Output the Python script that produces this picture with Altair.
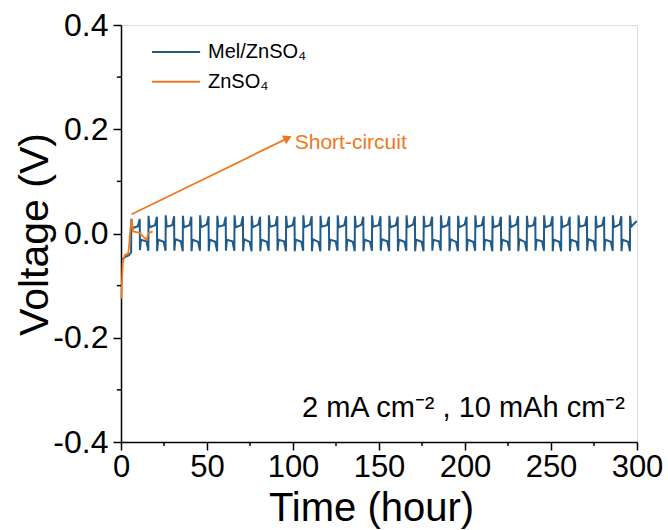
import altair as alt
import pandas as pd

# ---------------- data ----------------
SERIES = ["Mel/ZnSO₄", "ZnSO₄"]
COLORS = ["#1f5b8a", "#f07820"]

MEL_T = [
    0.8, 2.5, 4.5, 5.9,
    6, 6.6, 9.8, 10.9, 11, 11.6, 14.8, 15.9,
    16, 16.6, 19.8, 20.9, 21, 21.6, 24.8, 25.9,
    26, 26.6, 29.8, 30.9, 31, 31.6, 34.8, 35.9,
    36, 36.6, 39.8, 40.9, 41, 41.6, 44.8, 45.9,
    46, 46.6, 49.8, 50.9, 51, 51.6, 54.8, 55.9,
    56, 56.6, 59.8, 60.9, 61, 61.6, 64.8, 65.9,
    66, 66.6, 69.8, 70.9, 71, 71.6, 74.8, 75.9,
    76, 76.6, 79.8, 80.9, 81, 81.6, 84.8, 85.9,
    86, 86.6, 89.8, 90.9, 91, 91.6, 94.8, 95.9,
    96, 96.6, 99.8, 100.9, 101, 101.6, 104.8, 105.9,
    106, 106.6, 109.8, 110.9, 111, 111.6, 114.8, 115.9,
    116, 116.6, 119.8, 120.9, 121, 121.6, 124.8, 125.9,
    126, 126.6, 129.8, 130.9, 131, 131.6, 134.8, 135.9,
    136, 136.6, 139.8, 140.9, 141, 141.6, 144.8, 145.9,
    146, 146.6, 149.8, 150.9, 151, 151.6, 154.8, 155.9,
    156, 156.6, 159.8, 160.9, 161, 161.6, 164.8, 165.9,
    166, 166.6, 169.8, 170.9, 171, 171.6, 174.8, 175.9,
    176, 176.6, 179.8, 180.9, 181, 181.6, 184.8, 185.9,
    186, 186.6, 189.8, 190.9, 191, 191.6, 194.8, 195.9,
    196, 196.6, 199.8, 200.9, 201, 201.6, 204.8, 205.9,
    206, 206.6, 209.8, 210.9, 211, 211.6, 214.8, 215.9,
    216, 216.6, 219.8, 220.9, 221, 221.6, 224.8, 225.9,
    226, 226.6, 229.8, 230.9, 231, 231.6, 234.8, 235.9,
    236, 236.6, 239.8, 240.9, 241, 241.6, 244.8, 245.9,
    246, 246.6, 249.8, 250.9, 251, 251.6, 254.8, 255.9,
    256, 256.6, 259.8, 260.9, 261, 261.6, 264.8, 265.9,
    266, 266.6, 269.8, 270.9, 271, 271.6, 274.8, 275.9,
    276, 276.6, 279.8, 280.9, 281, 281.6, 284.8, 285.9,
    286, 286.6, 289.8, 290.9, 291, 291.6, 294.8, 295.9,
    296, 296.6, 299.9,
]
MEL_V = [
    -0.050, -0.045, -0.042, -0.036,
    0.028, 0.010, 0.014, 0.028, -0.032, -0.012, -0.015, -0.033,
    0.034, 0.012, 0.016, 0.032, -0.034, -0.012, -0.016, -0.033,
    0.035, 0.013, 0.016, 0.033, -0.033, -0.011, -0.015, -0.034,
    0.034, 0.012, 0.016, 0.032, -0.034, -0.012, -0.016, -0.033,
    0.035, 0.012, 0.017, 0.033, -0.034, -0.012, -0.016, -0.034,
    0.034, 0.013, 0.016, 0.032, -0.033, -0.012, -0.015, -0.033,
    0.035, 0.012, 0.016, 0.033, -0.034, -0.011, -0.016, -0.034,
    0.034, 0.012, 0.017, 0.032, -0.034, -0.012, -0.016, -0.033,
    0.035, 0.013, 0.016, 0.033, -0.033, -0.012, -0.015, -0.034,
    0.034, 0.012, 0.016, 0.032, -0.034, -0.012, -0.016, -0.033,
    0.035, 0.012, 0.017, 0.033, -0.034, -0.011, -0.016, -0.034,
    0.034, 0.013, 0.016, 0.032, -0.033, -0.012, -0.015, -0.033,
    0.035, 0.012, 0.016, 0.033, -0.034, -0.012, -0.016, -0.034,
    0.034, 0.012, 0.017, 0.032, -0.034, -0.012, -0.016, -0.033,
    0.035, 0.013, 0.016, 0.033, -0.033, -0.011, -0.015, -0.034,
    0.034, 0.012, 0.016, 0.032, -0.034, -0.012, -0.016, -0.033,
    0.035, 0.012, 0.017, 0.033, -0.034, -0.012, -0.016, -0.034,
    0.034, 0.013, 0.016, 0.032, -0.033, -0.012, -0.015, -0.033,
    0.035, 0.012, 0.016, 0.033, -0.034, -0.011, -0.016, -0.034,
    0.034, 0.012, 0.017, 0.032, -0.034, -0.012, -0.016, -0.033,
    0.035, 0.013, 0.016, 0.033, -0.033, -0.012, -0.015, -0.034,
    0.034, 0.012, 0.016, 0.032, -0.034, -0.012, -0.016, -0.033,
    0.035, 0.012, 0.017, 0.033, -0.034, -0.011, -0.016, -0.034,
    0.034, 0.013, 0.016, 0.032, -0.033, -0.012, -0.015, -0.033,
    0.035, 0.012, 0.016, 0.033, -0.034, -0.012, -0.016, -0.034,
    0.034, 0.012, 0.017, 0.032, -0.034, -0.012, -0.016, -0.033,
    0.035, 0.013, 0.016, 0.033, -0.033, -0.011, -0.015, -0.034,
    0.034, 0.012, 0.016, 0.032, -0.034, -0.012, -0.016, -0.033,
    0.035, 0.012, 0.017, 0.033, -0.034, -0.012, -0.016, -0.034,
    0.034, 0.013, 0.024,
]

ZN_T = [0.2, 1.0, 2.3, 4.2, 4.8, 5.2, 6.2, 7.1, 11.0, 12.9, 14.9, 15.8, 18.4]
ZN_V = [-0.125, -0.057, -0.041, -0.038, -0.022, 0.0, 0.028, 0.004, 0.001,
        -0.006, -0.012, 0.0, 0.004]

X_TICKS = [0, 50, 100, 150, 200, 250, 300]
X_MINOR = [25, 75, 125, 175, 225, 275]
Y_TICKS = [-0.4, -0.2, 0.0, 0.2, 0.4]
Y_MINOR = [-0.3, -0.1, 0.1, 0.3]

# legend entries (in data units), annotation positions
LEGEND_T = [18.0, 46.0, 50.6]          # line start, line end, label start
LEGEND_V = [0.348, 0.291]              # one row per series
ARROW_START = (6.2, 0.037)
ARROW_END = (97.0, 0.183)
ANNOT_TEXT = "Short-circuit"
ANNOT_POS = (101.0, 0.174)
COND_TEXT = "2 mA cm⁻² , 10 mAh cm⁻²"
COND_POS = (293.0, -0.335)

FONT = "Liberation Sans"

# ---------------- tables ----------------
mel = pd.DataFrame({"t": MEL_T, "v": MEL_V, "series": SERIES[0]})
mel["i"] = range(len(mel))
zn = pd.DataFrame({"t": ZN_T, "v": ZN_V, "series": SERIES[1]})
zn["i"] = range(len(zn))

xs = alt.Scale(domain=[0, 300], nice=False)
ys = alt.Scale(domain=[-0.4, 0.4], nice=False)
color = alt.Color("series:N", scale=alt.Scale(domain=SERIES, range=COLORS), legend=None)

x_axis = alt.Axis(
    values=X_TICKS, format="d", grid=False, labelFlush=False,
    labelFont=FONT, labelFontSize=31, labelColor="black", labelPadding=2,
    tickColor="black", tickSize=8, tickWidth=1.5,
    domainColor="black", domainWidth=1.5,
    title="Time (hour)", titleFont=FONT, titleFontSize=40,
    titleFontWeight="normal", titleColor="black",
    titleX=250, titleY=66, titleBaseline="middle",
)
y_axis = alt.Axis(
    values=Y_TICKS, grid=False,
    labelExpr="datum.value < 0 ? '-' + format(-datum.value, '.1f') : format(datum.value, '.1f')",
    labelFont=FONT, labelFontSize=32, labelColor="black", labelPadding=5,
    tickColor="black", tickSize=8, tickWidth=1.5,
    domainColor="black", domainWidth=1.5,
    title="Voltage (V)", titleFont=FONT, titleFontSize=41,
    titleFontWeight="normal", titleColor="black",
    titleX=-86, titleY=209, titleBaseline="middle",
)

mel_line = alt.Chart(mel).mark_line(strokeWidth=2, clip=True).encode(
    x=alt.X("t:Q", scale=xs, axis=x_axis),
    y=alt.Y("v:Q", scale=ys, axis=y_axis),
    color=color,
    order="i:Q",
)
zn_line = alt.Chart(zn).mark_line(strokeWidth=1.8).encode(
    x=alt.X("t:Q", scale=xs),
    y=alt.Y("v:Q", scale=ys),
    color=color,
    order="i:Q",
)

# legend built from the same colour scale
leg_df = pd.DataFrame({
    "series": SERIES, "v": LEGEND_V,
    "t1": LEGEND_T[0], "t2": LEGEND_T[1], "tl": LEGEND_T[2],
})
leg_lines = alt.Chart(leg_df).mark_rule(strokeWidth=2).encode(
    x=alt.X("t1:Q", scale=xs), x2="t2:Q", y=alt.Y("v:Q", scale=ys), color=color
)
leg_text = alt.Chart(leg_df).mark_text(
    align="left", baseline="middle", font=FONT, fontSize=20, color="black"
).encode(x=alt.X("tl:Q", scale=xs), y=alt.Y("v:Q", scale=ys), text="series:N")

arrow_df = pd.DataFrame({"t": [ARROW_START[0]], "v": [ARROW_START[1]],
                         "t2": [ARROW_END[0]], "v2": [ARROW_END[1]]})
arrow = alt.Chart(arrow_df).mark_rule(color=COLORS[1], strokeWidth=1.8).encode(
    x=alt.X("t:Q", scale=xs), y=alt.Y("v:Q", scale=ys), x2="t2:Q", y2="v2:Q"
)
head_df = pd.DataFrame({"t": [ARROW_END[0]], "v": [ARROW_END[1]]})
head = alt.Chart(head_df).mark_point(
    shape="triangle-right", filled=True, color=COLORS[1], size=95, angle=334, opacity=1
).encode(x=alt.X("t:Q", scale=xs), y=alt.Y("v:Q", scale=ys))

annot_df = pd.DataFrame({"t": [ANNOT_POS[0]], "v": [ANNOT_POS[1]], "txt": [ANNOT_TEXT]})
annot = alt.Chart(annot_df).mark_text(
    align="left", baseline="middle", font=FONT, fontSize=21, color=COLORS[1]
).encode(x=alt.X("t:Q", scale=xs), y=alt.Y("v:Q", scale=ys), text="txt:N")

cond_df = pd.DataFrame({"t": [COND_POS[0]], "v": [COND_POS[1]], "txt": [COND_TEXT]})
cond = alt.Chart(cond_df).mark_text(
    align="right", baseline="middle", font=FONT, fontSize=29, color="black"
).encode(x=alt.X("t:Q", scale=xs), y=alt.Y("v:Q", scale=ys), text="txt:N")

xminor_df = pd.DataFrame({"t": X_MINOR, "v": -0.4, "v2": -0.4077})
xminor = alt.Chart(xminor_df).mark_rule(color="black", strokeWidth=1.5).encode(
    x=alt.X("t:Q", scale=xs), y=alt.Y("v:Q", scale=ys), y2="v2:Q"
)
yminor_df = pd.DataFrame({"t": 0.0, "t2": -2.4, "v": Y_MINOR})
yminor = alt.Chart(yminor_df).mark_rule(color="black", strokeWidth=1.5).encode(
    x=alt.X("t:Q", scale=xs), x2="t2:Q", y=alt.Y("v:Q", scale=ys)
)

chart = alt.layer(
    mel_line, zn_line, arrow, head, annot, cond, leg_lines, leg_text, xminor, yminor
).properties(
    width=516, height=417,
    padding={"left": 121, "top": 25, "right": 31, "bottom": 88},
    autosize=alt.AutoSizeParams(type="none"),
).configure_view(
    stroke="black", strokeWidth=1.5
).configure(background="white")

chart.save("out.html", embed_options={"renderer": "svg", "actions": False})
